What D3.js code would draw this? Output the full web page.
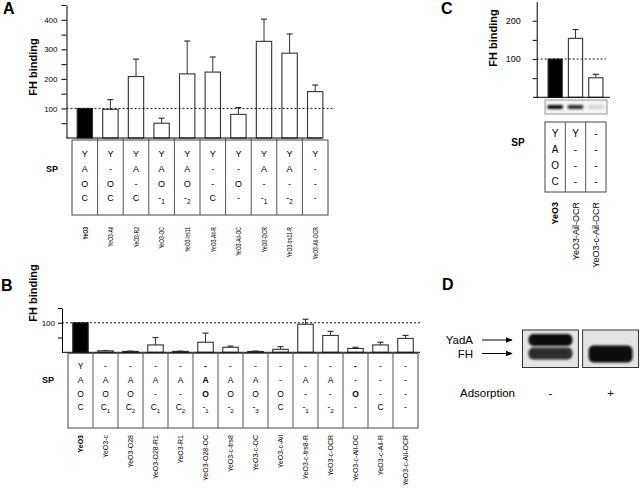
<!DOCTYPE html>
<html><head><meta charset="utf-8">
<script src="https://cdn.jsdelivr.net/npm/d3@7"></script>
<style>body{margin:0;background:#fff} svg{font-family:"Liberation Sans",Arial,sans-serif}</style>
</head><body>
<svg id="c" width="640" height="500"></svg>
<script>
// ---------- Panel A data ----------
const aStrains = ["YeO3","YeO3-Ail","YeO3-R2","YeO3-OC","YeO3-trs11","YeO3-Ail-R","YeO3-Ail-OC","YeO3-OCR","YeO3-trs11-R","YeO3-Ail-OCR"];
const aValues  = [100, 97, 208, 50, 217, 223, 80, 327, 287, 157];
const aErr     = [0, 33, 59, 17, 111, 51, 23, 75, 65, 22];
const aSP = [["Y","A","O","C"],["Y","-","O","C"],["Y","A","-","C"],["Y","A","O","-_1"],["Y","A","O","-_2"],
             ["Y","-","-","C"],["Y","-","O","-"],["Y","A","-","-_1"],["Y","A","-","-_2"],["Y","-","-","-"]];
const aTicks = [50,100,150,200,250,300,350,400,450];
const aTickLabels = [100,200,300,400];

// ---------- Panel B data ----------
const bStrains = ["YeO3","YeO3-c","YeO3-O28","YeO3-O28-R1","YeO3-R1","YeO3-O28-OC","YeO3-c-trs8","YeO3-c-OC","YeO3-c-Ail","YeO3-c-trs8-R","YeO3-c-OCR","YeO3-c-Ail-OC","YeO3-c-Ail-R","YeO3-c-Ail-OCR"];
const bValues  = [100, 5, 3, 25, 3, 34, 17, 3, 10, 95, 57, 13, 25, 47];
const bErr     = [0, 1, 1, 25, 1, 31, 4, 1, 9, 17, 14, 4, 9, 10];
const bSP = [["Y","A","O","C"],["-","A","O","C_1"],["-","A","O","C_2"],["-","A","-","C_1"],["-","A","-","C_2"],
             ["*-","*A","*O","-_1"],["-","A","O","-_2"],["-","A","O","-_3"],["-","-","O","C"],["-","A","-","-_1"],
             ["-","A","-","-_2"],["*-","-","*O","-"],["-","-","-","C"],["-","-","-","-"]];
const bTicks = [50,100,150];
const bTickLabels = [100];

// ---------- Panel C data ----------
const cStrains = ["YeO3","YeO3-Ail-OCR","YeO3-c-Ail-OCR"];
const cValues  = [100, 154, 51];
const cErr     = [0, 23, 9];
const cSP = [["Y","A","O","C"],["Y","-","-","-"],["-","-","-","-"]];
const cTicks = [50,100,150,200];
const cTickLabels = [100,200];
const cBlot = [1, 0.85, 0.12];

// ---------- Panel D data ----------
const dLanes = ["-","+"];
const dBandNames = ["YadA","FH"];
const dBands = [{lane:"-",band:"YadA",k:1},{lane:"-",band:"FH",k:0.85},{lane:"+",band:"FH",k:1}];

const svg = d3.select("#c");
const defs = svg.append("defs");
defs.append("filter").attr("id","blur").attr("x","-20%").attr("y","-50%").attr("width","140%").attr("height","200%")
  .append("feGaussianBlur").attr("stdDeviation",1.3);
defs.append("marker").attr("id","arr").attr("viewBox","0 0 10 10").attr("refX",9).attr("refY",5)
  .attr("markerWidth",7).attr("markerHeight",7).attr("orient","auto")
  .append("path").attr("d","M0,1 L10,5 L0,9 Z").attr("fill","#000");

function cellText(sel, s, fs){
  let bold = false;
  if (s.startsWith("*")) { bold = true; s = s.slice(1); }
  const parts = s.split("_");
  sel.attr("font-weight", bold ? "bold" : "normal").text(parts[0]);
  if (parts[1]) sel.append("tspan").attr("font-size", fs*0.72).attr("dy", fs*0.3).text(parts[1]);
}

function drawPanel(o){
  const g = svg.append("g");
  const x = d3.scaleBand().domain(o.strains).range(o.cols).padding(0);
  const y = d3.scaleLinear().domain(o.yDomain).range(o.yRange);
  const bw = x.bandwidth()*o.barFrac;
  const cx = d => x(d) + x.bandwidth()/2;
  const data = o.strains.map((s,i)=>({s, i, v:o.values[i], e:o.err[i]}));

  // axis
  const ax = g.append("g").attr("transform",`translate(${o.axisX},0)`)
    .call(d3.axisLeft(y).tickValues(o.ticks).tickFormat(d => o.tickLabels.includes(d) ? d : "")
      .tickSize(o.tickSize).tickSizeOuter(0).tickPadding(o.tickPad));
  ax.selectAll("text").attr("font-size", o.tickFont).attr("font-family","Liberation Sans, Arial, sans-serif").attr("fill","#000");
  ax.select(".domain").attr("stroke","#000");
  ax.selectAll(".tick line").attr("stroke","#000");

  // error bars
  const eb = data.filter(d => d.e > 0);
  g.selectAll(".ev").data(eb).join("line")
    .attr("x1", d=>cx(d.s)).attr("x2", d=>cx(d.s)).attr("y1", d=>y(d.v)).attr("y2", d=>y(d.v+d.e))
    .attr("stroke","#333").attr("stroke-width",1);
  g.selectAll(".ec").data(eb).join("line")
    .attr("x1", d=>cx(d.s)-3).attr("x2", d=>cx(d.s)+3).attr("y1", d=>y(d.v+d.e)).attr("y2", d=>y(d.v+d.e))
    .attr("stroke","#333").attr("stroke-width",1.2);

  // bars
  g.selectAll(".bar").data(data).join("rect")
    .attr("x", d=>cx(d.s)-bw/2).attr("width", bw)
    .attr("y", d=>y(d.v)).attr("height", d=>y(0)-y(d.v))
    .attr("fill", d=> d.i===0 ? "#000" : "#fff").attr("stroke","#333").attr("stroke-width",1.1);

  // baseline
  g.append("line").attr("x1", o.baseStart).attr("x2", o.baseEnd).attr("y1", y(0)).attr("y2", y(0)).attr("stroke","#000");
  // dashed 100 line
  g.append("line").attr("x1", o.axisX).attr("x2", o.dashEnd).attr("y1", y(100)).attr("y2", y(100))
    .attr("stroke","#000").attr("stroke-width",0.9).attr("stroke-dasharray","2,2");

  // FH binding label
  g.append("text").attr("transform",`translate(${o.yLab[0]},${o.yLab[1]}) rotate(-90)`)
    .attr("text-anchor","middle").attr("dominant-baseline","central")
    .attr("font-weight","bold").attr("font-size", o.yLabFont).text("FH binding");

  // SP table
  const [c0, c1] = o.cols;
  g.append("rect").attr("x", c0).attr("y", o.tableTop).attr("width", c1-c0).attr("height", o.tableBottom-o.tableTop)
    .attr("fill","none").attr("stroke","#444").attr("stroke-width",1);
  g.selectAll(".cl").data(o.strains.slice(1)).join("line")
    .attr("x1", d=>x(d)).attr("x2", d=>x(d)).attr("y1", o.colLineTop).attr("y2", o.tableBottom)
    .attr("stroke","#555").attr("stroke-width",1);
  o.sp.forEach((col, ci) => {
    col.forEach((s, ri) => {
      const t = g.append("text").attr("x", cx(o.strains[ci])).attr("y", o.rowY[ri])
        .attr("text-anchor","middle").attr("dominant-baseline","central").attr("font-size", o.cellFont);
      cellText(t, s, o.cellFont);
    });
  });
  g.append("text").attr("x", o.spPos[0]).attr("y", o.spPos[1]).attr("text-anchor","middle").attr("dominant-baseline","central")
    .attr("font-weight","bold").attr("font-size", o.spFont).text("SP");

  // strain labels
  g.selectAll(".sl").data(data).join("text")
    .attr("transform", d=>`translate(${cx(d.s)},${o.labelTop}) rotate(-90) scale(${o.labelScale},1)`)
    .attr("text-anchor","end").attr("dominant-baseline","central")
    .attr("font-size", o.labelFont).attr("font-weight", d=> d.i===0 ? "bold" : "normal").text(d=>d.s);

  return {x, y, cx};
}

// Panel A
drawPanel({strains:aStrains, values:aValues, err:aErr, sp:aSP, ticks:aTicks, tickLabels:aTickLabels,
  yDomain:[0,450], yRange:[138,5], axisX:66.5, cols:[72,328], barFrac:0.6,
  baseStart:66.5, baseEnd:322, dashEnd:335, tickSize:5, tickPad:4, tickFont:8,
  yLab:[33,67], yLabFont:11, tableTop:140, tableBottom:215, colLineTop:138, rowY:[154,169,184,198], cellFont:9,
  spPos:[52,169], spFont:9, labelTop:227, labelFont:7, labelScale:0.72});

// Panel B
drawPanel({strains:bStrains, values:bValues, err:bErr, sp:bSP, ticks:bTicks, tickLabels:bTickLabels,
  yDomain:[0,150], yRange:[352.3,308], axisX:62, cols:[68,418], barFrac:0.62,
  baseStart:62, baseEnd:420, dashEnd:420, tickSize:4, tickPad:3, tickFont:8,
  yLab:[33,293], yLabFont:11, tableTop:353.3, tableBottom:428, colLineTop:352.3, rowY:[366,380,393.5,407], cellFont:8.5,
  spPos:[48,380], spFont:9, labelTop:435, labelFont:7, labelScale:1});

// Panel C
const C = drawPanel({strains:cStrains, values:cValues, err:cErr, sp:cSP, ticks:cTicks, tickLabels:cTickLabels,
  yDomain:[0,250], yRange:[97.3,1.6], axisX:536.7, cols:[545,606], barFrac:0.7,
  baseStart:533, baseEnd:610, dashEnd:606, tickSize:4, tickPad:12, tickFont:9,
  yLab:[493,38], yLabFont:11, tableTop:122, tableBottom:192, colLineTop:122, rowY:[133,149,165,181], cellFont:10,
  spPos:[518,142], spFont:10, labelTop:202, labelFont:9, labelScale:1});

// C western blot strip
const cb = svg.append("g");
cb.append("rect").attr("x",545).attr("y",100).attr("width",62).attr("height",14).attr("fill","#f3f3f3").attr("stroke","#999");
cb.selectAll(".band").data(cStrains.map((s,i)=>({s,k:cBlot[i]}))).join("rect")
  .attr("x", d=>C.cx(d.s)-8).attr("y",105).attr("width",16).attr("height",4).attr("rx",2)
  .attr("fill","#111").attr("opacity", d=>d.k).attr("filter","url(#blur)");

// Panel D
const dx = d3.scaleBand().domain(dLanes).range([522.5,638.5]).paddingInner(0.07).paddingOuter(0);
const dy = d3.scalePoint().domain(dBandNames).range([340,353.5]);
const D = svg.append("g");
D.selectAll(".fr").data(dLanes).join("rect")
  .attr("x", d=>dx(d)).attr("y",330).attr("width",dx.bandwidth()).attr("height",37.5)
  .attr("fill","#e4e4e4").attr("stroke","#333").attr("stroke-width",1);
D.selectAll(".bd").data(dBands).join("rect")
  .attr("x", d=>dx(d.lane)+6).attr("width", dx.bandwidth()-12)
  .attr("y", d=>dy(d.band)-(d.lane==="+"?8:6)).attr("height", d=>d.lane==="+"?17:12).attr("rx",5)
  .attr("fill","#0a0a0a").attr("opacity", d=>d.k).attr("filter","url(#blur)");
D.selectAll(".bl").data(dBandNames).join("text")
  .attr("x",473).attr("y", d=>dy(d)).attr("text-anchor","end").attr("dominant-baseline","central")
  .attr("font-size",11.5).text(d=>d);
D.selectAll(".ar").data(dBandNames).join("line")
  .attr("x1",482).attr("x2",512).attr("y1", d=>dy(d)).attr("y2", d=>dy(d))
  .attr("stroke","#000").attr("stroke-width",1).attr("marker-end","url(#arr)");
D.append("text").attr("x",460).attr("y",393).attr("dominant-baseline","central").attr("font-size",11.5).text("Adsorption");
D.selectAll(".ad").data(dLanes).join("text")
  .attr("x", d=>dx(d)+dx.bandwidth()/2).attr("y",393).attr("text-anchor","middle").attr("dominant-baseline","central")
  .attr("font-size",11.5).text(d=>d);

// Panel letters
const letters = [["A",3,14],["B",1,291],["C",441,14],["D",442,290]];
svg.selectAll(".pl").data(letters).join("text")
  .attr("x", d=>d[1]).attr("y", d=>d[2]).attr("font-weight","bold").attr("font-size",16).text(d=>d[0]);
</script>
</body></html>
